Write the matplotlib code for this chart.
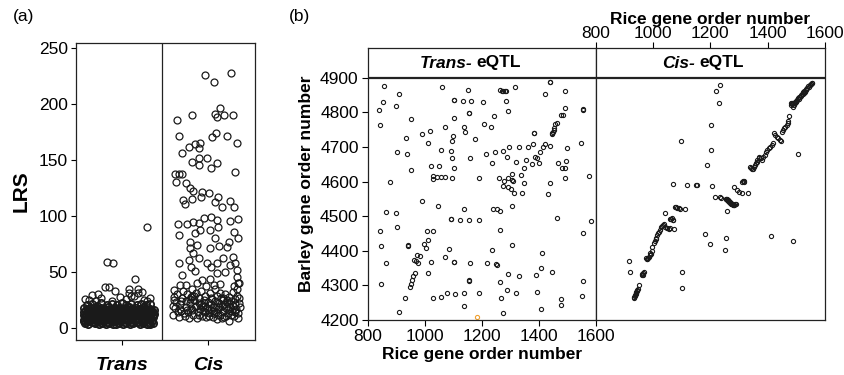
import numpy as np
import matplotlib.pyplot as plt

plt.rcParams['font.family'] = ['Liberation Sans', 'DejaVu Sans']

# ---- panel (a): LRS of trans / cis eQTL (x = category + jitter) ----
trans_blob_x = [-0.43, -0.39, -0.35, -0.31, -0.27, -0.23, -0.19, -0.15, -0.11, -0.07, -0.03, 0.01, 0.05, 0.09, 0.13, 0.17, 0.21, 0.25, 0.29, 0.33, 0.36,
                -0.41, -0.37, -0.33, -0.29, -0.25, -0.21, -0.17, -0.13, -0.09, -0.05, -0.01, 0.03, 0.07, 0.11, 0.15, 0.19, 0.23, 0.27, 0.31, 0.35, -0.44,
                -0.44, -0.41, -0.37, -0.33, -0.29, -0.25, -0.21, -0.17, -0.13, -0.09, -0.05, -0.01, 0.03, 0.07, 0.11, 0.15, 0.19, 0.23, 0.27, 0.31, 0.35,
                -0.43, -0.39, -0.35, -0.31, -0.27, -0.23, -0.19, -0.15, -0.11, -0.07, -0.03, 0.01, 0.05, 0.09, 0.13, 0.17, 0.21, 0.25, 0.29, 0.33, 0.36,
                -0.44, -0.40, -0.36, -0.32, -0.28, -0.24, -0.20, -0.16, -0.12, -0.08, -0.04, 0.00, 0.04, 0.08, 0.12, 0.16, 0.20, 0.24, 0.28, 0.32, 0.36,
                -0.42, -0.38, -0.34, -0.30, -0.26, -0.22, -0.18, -0.14, -0.10, -0.06, -0.02, 0.02, 0.06, 0.10, 0.14, 0.18, 0.22, 0.26, 0.30, 0.34, 0.37,
                -0.44, -0.40, -0.36, -0.32, -0.28, -0.24, -0.20, -0.16, -0.12, -0.08, -0.04, 0.00, 0.04, 0.08, 0.12, 0.16, 0.20, 0.24, 0.28, 0.32, 0.36,
                -0.42, -0.38, -0.34, -0.30, -0.26, -0.22, -0.18, -0.14, -0.10, -0.06, -0.02, 0.02, 0.06, 0.10, 0.14, 0.18, 0.22, 0.26, 0.30, 0.34, 0.37,
                -0.44, -0.40, -0.36, -0.32, -0.28, -0.24, -0.20, -0.16, -0.12, -0.08, -0.04, 0.00, 0.04, 0.08, 0.12, 0.16, 0.20, 0.24, 0.28, 0.32,
                -0.41, -0.35, -0.29, -0.24, -0.18, -0.12, -0.06, 0.00, 0.05, 0.11, 0.17, 0.22, 0.28, 0.33]
trans_blob_y = [4.2, 3.6, 5.0, 4.1, 3.8, 4.6, 3.5, 4.9, 4.0, 3.7, 4.4, 3.9, 4.8, 3.6, 4.3, 5.1, 3.8, 4.5, 4.0, 3.7, 4.6,
                5.9, 6.3, 5.5, 6.1, 5.7, 6.4, 5.6, 6.0, 6.2, 5.4, 6.5, 5.8, 6.1, 5.6, 6.3, 5.7, 6.0, 6.4, 5.5, 6.2, 5.9,
                7.6, 8.1, 7.2, 7.9, 8.4, 7.0, 7.7, 8.3, 7.4, 8.0, 7.1, 7.8, 8.5, 7.3, 7.9, 7.5, 8.2, 7.0, 7.7, 8.4, 7.6,
                9.5, 9.1, 9.8, 9.3, 9.6, 9.0, 9.9, 9.4, 9.2, 9.7, 9.3, 9.6, 9.0, 9.8, 9.4, 9.1, 9.7, 9.3, 9.9, 9.2, 9.5,
                11.2, 10.6, 11.8, 10.9, 11.5, 10.4, 11.9, 11.0, 10.7, 11.6, 11.1, 10.5, 11.4, 12.0, 10.8, 11.3, 10.6, 11.7, 11.0, 10.9, 11.5,
                12.9, 12.5, 13.2, 12.7, 13.0, 12.4, 12.8, 13.3, 12.6, 12.9, 13.1, 12.5, 12.8, 13.2, 12.7, 12.4, 13.0, 12.6, 13.3, 12.8, 12.7,
                14.3, 15.0, 14.1, 14.8, 13.9, 15.2, 14.5, 14.0, 15.1, 14.4, 13.8, 14.9, 14.2, 15.3, 14.6, 13.9, 14.7, 15.0, 14.1, 14.8, 14.3,
                16.0, 16.4, 15.8, 16.3, 16.1, 15.7, 16.5, 16.0, 15.9, 16.2, 16.6, 15.8, 16.1, 16.4, 15.9, 16.3, 16.0, 15.7, 16.2, 16.5, 16.0,
                17.8, 17.1, 18.3, 17.5, 16.9, 18.0, 17.3, 18.6, 17.0, 17.7, 18.2, 16.8, 17.6, 18.4, 17.2, 17.9, 16.9, 18.1, 17.4, 17.0,
                20.6, 21.4, 20.1, 22.0, 20.8, 21.5, 20.3, 22.3, 20.9, 21.2, 20.4, 21.8, 20.7, 21.0]
trans_high_x = [-0.43, -0.35, -0.30, -0.20, -0.15, -0.08, 0.085, 0.19, 0.19, 0.085, 0.23, 0.29, -0.38, -0.25, -0.12,
                -0.02, 0.05, 0.14, 0.26, 0.33, -0.28, 0.10, -0.17, -0.10, 0.155, 0.29]
trans_high_y = [26.1, 29.7, 24.5, 36.5, 36.5, 32.7, 34.7, 34.7, 31.2, 31.2, 31.8, 23.8, 25.0, 26.8, 24.2,
                27.5, 25.6, 28.3, 24.9, 26.4, 30.5, 29.0, 58.8, 57.9, 43.9, 90.6]

cis_x = [-0.03, 0.066, 0.27, 0.14, 0.085, 0.11, 0.19, 0.29, -0.36, -0.19,
         -0.34, 0.047, 0.097, 0.22, 0.34, -0.15, -0.09, -0.22, -0.11, -0.30, -0.19, -0.10, -0.11, -0.01, 0.10, 0.035, 0.32,
         -0.38, -0.34, -0.30, -0.37, -0.26, -0.21, -0.17, -0.07, 0.016, 0.12, -0.29, -0.27, -0.19, -0.08, 0.085, 0.16, 0.26, 0.30,
         -0.35, -0.34, -0.24, -0.17, -0.10, -0.05, 0.035, 0.10, 0.12, 0.02, -0.09, -0.15, -0.21, -0.13, -0.21, 0.027, 0.085, 0.13,
         0.22, 0.25, 0.35, 0.35, 0.26, 0.30,
         -0.34, -0.22, -0.20, -0.17, -0.10, -0.01, 0.035, 0.11, 0.17, 0.26, 0.32, 0.34, 0.29, -0.30, -0.15, -0.07, 0.02, 0.10,
         0.20, 0.34, 0.14, 0.066, -0.02, -0.13, -0.26, -0.33, 0.30, 0.35,
         -0.41, -0.38, -0.40, -0.36, -0.39, -0.34, -0.33, -0.31, -0.30, -0.29, -0.27, -0.26, -0.25, -0.24, -0.23, -0.22, -0.21,
         -0.20, -0.19, -0.18, -0.17, -0.16, -0.15, -0.14, -0.13, -0.12, -0.11, -0.10, -0.09, -0.08, -0.07, -0.06, -0.05, -0.04,
         -0.03, -0.02, -0.01, 0.00, 0.01, 0.02, 0.03, 0.04, 0.05, 0.06, 0.07, 0.08, 0.09, 0.10, 0.11, 0.12, 0.13, 0.14, 0.15,
         0.16, 0.17, 0.18, 0.19, 0.20, 0.21, 0.22, 0.23, 0.24, 0.25, 0.26, 0.27, 0.28, 0.29, 0.30, 0.31, 0.32, 0.33, 0.34, 0.35,
         0.36, 0.35, 0.37, 0.34, 0.36,
         -0.37, -0.32, -0.28, -0.21, -0.14, -0.06, 0.03, 0.09, 0.14, 0.19, 0.23, 0.29, 0.32, -0.18, -0.08, 0.06, 0.12, 0.21,
         0.27, -0.03, 0.00, 0.16, -0.11, -0.24, 0.08, -0.35, -0.41, -0.39,
         -0.20, -0.05, 0.07, 0.18, 0.25, 0.31, -0.31, -0.16, 0.01, 0.13, 0.22, 0.36]
cis_y = [225.6, 219.7, 227.7, 196.6, 190.9, 188, 190, 190, 185.6, 190,
         171.3, 170.7, 173.7, 171.3, 164.8, 164.2, 164.8, 161.8, 160.3, 156.5, 148.5, 151.4, 146, 151.4, 147, 142.5, 139.5,
         137.5, 137.5, 137.5, 130.6, 129.7, 125.3, 122.3, 121.1, 120.8, 116.7, 114.3, 110.5, 114.9, 117.3, 112.8, 107.8, 113.7, 108.4,
         92.9, 83.1, 92.9, 95, 93.5, 98, 99.5, 96.5, 90.6, 87.6, 87.6, 84.6, 77.2, 74.2, 71.3, 71.3, 80.2, 73.3,
         72.6, 77.2, 80.2, 97.1, 95.9, 85.5,
         57.9, 60.9, 54.9, 66.8, 62.4, 57.9, 54.9, 57.9, 62.4, 56.4, 57.9, 52, 63.8, 47.5, 50.5, 43, 43.6, 49,
         49.6, 46, 39.5, 38.6, 37.7, 40, 38.6, 38.6, 37.7, 40,
         12, 18, 25, 30, 34, 10, 21, 15, 27, 33, 11, 19, 24, 30, 14, 8.5, 22,
         28, 35, 16, 12, 25, 19, 31, 9, 14, 22, 27, 17, 33, 11, 20, 25, 14,
         29, 9.5, 18, 23, 13, 31, 16, 21, 26, 10, 19, 24, 14, 29, 8, 17, 22, 12, 27,
         20, 15, 25, 10, 30, 18, 23, 13, 28, 6.5, 19, 24, 15, 32, 11, 21, 26, 17, 29, 13,
         22, 9, 19, 35, 40,
         23, 17, 13, 26, 20, 15, 27, 20, 31, 21, 17, 20, 14, 29, 21, 15, 12, 11,
         12, 20, 16, 9, 12, 16, 35, 14, 20, 28,
         18, 22, 13, 27, 21, 16, 24, 29, 11, 19, 25, 27]

# ---- panel (b): rice vs barley gene order ----
trans_rice = [858, 911, 1060, 1153, 1263, 1272, 1281, 1286, 1317, 1440, 1422, 1492,
              840, 855, 898, 1104, 1136, 1163, 1203, 1156, 1284, 1292, 1554, 1494, 843, 952, 1104, 1072, 1139,
              1208, 1243, 1232, 1143, 1178, 1020, 991, 933, 1101, 1097, 1013, 904, 937, 1057, 1091, 1095,
              1022, 1051, 1103, 952, 878, 1030, 1042, 1057, 1071, 1028, 1095, 1192, 1159, 1215, 1237, 1247,
              1274, 1288, 1297, 1331, 1363, 1305, 1322, 1339, 1349, 1355, 1381, 1383, 1378, 1388, 1393, 1405,
              1414, 1422, 1402, 1441, 1446, 1450, 1453, 1458, 1465, 1477, 1485, 1498, 1494, 1496, 1492, 1482,
              1467, 1440, 1432, 1349, 1342, 1260, 1277, 1294, 1311, 1274, 1294, 1302, 1315, 1308, 1308, 1255,
              1239, 1265, 1235, 1252, 1265, 1308, 1292, 1265, 1288, 1268, 1274, 1322, 1331, 1390, 1408, 1411,
              1448, 1393, 1408, 1478, 1478, 1557, 1553, 1557, 1583, 1578, 1549, 1465, 1189, 1139, 1154, 1123,
              1093, 1046, 991, 900, 864, 902, 843, 848, 864, 847, 931, 911, 1007, 1028, 1011, 999, 1005, 943,
              972, 984, 970, 975, 964, 966, 960, 955, 951, 947, 1013, 1022, 1028, 1056, 1079, 1087, 1070, 1104,
              1105, 1138, 1155, 1158, 1139, 1192, 1220, 1250,
              1440, 1104, 1156, 1554, 1383, 1093, 943, 1104, 1155, 1273, 1448, 1452]
trans_barley = [4876, 4853, 4872, 4864, 4864, 4863, 4862, 4861, 4873, 4887, 4852, 4862,
                4807, 4831, 4818, 4835, 4834, 4834, 4831, 4797, 4834, 4803, 4809, 4813, 4762, 4781, 4785, 4758, 4758,
                4767, 4789, 4757, 4744, 4722, 4745, 4736, 4727, 4732, 4716, 4711, 4684, 4681, 4691, 4688, 4669,
                4645, 4645, 4639, 4632, 4600, 4617, 4614, 4614, 4612, 4607, 4609, 4609, 4668, 4679, 4654, 4686,
                4688, 4670, 4701, 4699, 4701, 4623, 4657, 4619, 4638, 4662, 4708, 4739, 4650, 4670, 4668, 4686,
                4701, 4708, 4655, 4702, 4738, 4742, 4754, 4766, 4769, 4792, 4792, 4697, 4638, 4660, 4609, 4638,
                4655, 4597, 4563, 4597, 4566, 4609, 4603, 4609, 4603, 4588, 4585, 4579, 4568, 4604, 4530, 4521,
                4521, 4516, 4402, 4359, 4461, 4417, 4333, 4311, 4287, 4264, 4219, 4279, 4326, 4329, 4351, 4393,
                4339, 4280, 4232, 4261, 4243, 4313, 4269, 4452, 4487, 4616, 4710, 4494, 4489, 4520, 4489, 4489,
                4491, 4529, 4544, 4508, 4512, 4470, 4458, 4414, 4364, 4304, 4264, 4222, 4458, 4456, 4431, 4419, 4407, 4415,
                4388, 4385, 4371, 4366, 4373, 4335, 4327, 4315, 4304, 4296, 4335, 4367, 4264, 4267, 4277, 4404, 4381, 4367,
                4275, 4277, 4314, 4364, 4240, 4279, 4364, 4361,
                4889, 4837, 4799, 4807, 4741, 4493, 4417, 4369, 4316, 4862, 4740, 4748]
orange_rice = [1185]
orange_barley = [4208]

cis_rice = [934, 937, 940, 944, 947, 952, 960, 966, 965, 976, 980, 985, 990, 992, 997, 1003, 1010, 1015, 1020,
            1027, 1034, 1041, 1048, 1055, 1059, 1065, 1071, 1042, 1077, 1085, 1094, 1112, 1074, 1050, 1060,
            1216, 1234, 1238, 1253, 1257, 1260, 1263, 1266, 1269, 1273, 1277, 1281, 1286, 1257,
            1283, 1292, 1301, 1309, 1312, 1319, 1330,
            1338, 1347, 1353, 1359, 1364, 1371, 1379, 1391, 1399, 1409, 1420, 1423, 1431, 1442, 1449, 1457,
            1466, 1472, 1476, 1480, 1484, 1487, 1491, 1495, 1499, 1503, 1508, 1513, 1518, 1522, 1526, 1530,
            1534, 1538, 1543, 1548, 1552, 1556,
            1506, 1489, 1412, 917, 920, 1101, 1101, 1181, 1199, 1255, 1252, 1230, 1235, 1221,
            1207, 1188, 1203, 1203, 1096, 1071, 1119, 1149, 1153,
            932, 936, 939, 942, 945, 962, 968, 978, 983, 988, 995, 1006, 1012, 1018, 1024, 1030, 1037,
            1062, 1068, 1080, 1089,
            1255, 1259, 1262, 1265, 1268, 1271, 1275, 1279, 1284, 1288, 1315, 1317,
            1342, 1350, 1356, 1362, 1368, 1375, 1385, 1395, 1404, 1414, 1425, 1436, 1445, 1453, 1462, 1470,
            1482, 1486, 1490, 1494, 1498, 1502, 1506, 1511, 1516, 1520, 1524, 1528, 1532, 1536, 1541, 1546, 1550, 1554]
cis_barley = [4267, 4272, 4278, 4283, 4289, 4301, 4330, 4335, 4329, 4378, 4375, 4383, 4393, 4391, 4412, 4423, 4433, 4445, 4455,
              4470, 4474, 4470, 4466, 4463, 4491, 4494, 4489, 4508, 4527, 4525, 4522, 4522, 4464, 4467, 4465,
              4554, 4554, 4552, 4551, 4549, 4547, 4544, 4541, 4537, 4535, 4534, 4532, 4535, 4515,
              4585, 4577, 4570, 4568, 4600, 4602, 4566,
              4643, 4635, 4643, 4653, 4662, 4672, 4662, 4677, 4691, 4701, 4710, 4741, 4730, 4720, 4744, 4754,
              4763, 4775, 4789, 4826, 4828, 4816, 4822, 4826, 4830, 4835, 4839, 4843, 4848, 4852, 4856, 4860,
              4864, 4869, 4874, 4879, 4882, 4884,
              4679, 4428, 4443, 4370, 4338, 4338, 4292, 4448, 4419, 4437, 4402, 4828, 4879, 4861,
              4587, 4648, 4691, 4763, 4717, 4593, 4590, 4590, 4590,
              4263, 4269, 4275, 4280, 4286, 4332, 4338, 4377, 4380, 4388, 4400, 4428, 4438, 4450, 4460, 4472, 4476,
              4492, 4490, 4526, 4524,
              4550, 4548, 4546, 4543, 4540, 4537, 4535, 4533, 4533, 4534, 4601, 4598,
              4640, 4637, 4648, 4657, 4668, 4667, 4670, 4684, 4696, 4705, 4735, 4725, 4718, 4750, 4758, 4770,
              4820, 4824, 4828, 4831, 4834, 4837, 4840, 4845, 4849, 4853, 4858, 4862, 4866, 4871, 4875, 4878, 4881, 4886]

W, H = 844, 375
fig = plt.figure(figsize=(W / 100, H / 100), dpi=100)


def box(l, t, r, b):
    return [l / W, 1 - b / H, (r - l) / W, (b - t) / H]


spine_col = '#222222'

# panel (a)
ax = fig.add_axes(box(76, 43, 255, 340))
mk = dict(ls='none', marker='o', mfc='none', mec='#1a1a1a', ms=5.0, mew=0.9)
ax.plot(1 + np.array(trans_blob_x), trans_blob_y, ls='none', marker='o', mfc='none', mec='#1a1a1a', ms=5.2, mew=1.3)
ax.plot(1 + np.array(trans_high_x), trans_high_y, **mk)
ax.plot(2 + np.array(cis_x), cis_y, **mk)
ax.axvline(1.465, color=spine_col, lw=0.9)
ax.set_xlim(0.465, 2.547)
ax.set_ylim(-10.7, 254.5)
ax.set_yticks([0, 50, 100, 150, 200, 250])
ax.set_xticks([1, 2])
ax.set_xticklabels(['Trans', 'Cis'], fontsize=14, fontweight='bold', style='italic')
ax.tick_params(axis='y', labelsize=12.5, length=3.5, width=0.8, pad=2.5)
ax.tick_params(axis='x', length=3.5, width=0.8, pad=9)
for s in ax.spines.values():
    s.set_linewidth(0.9)
    s.set_color(spine_col)
ax.set_ylabel('LRS', fontsize=15, fontweight='bold', labelpad=6)
fig.text(13 / W, 1 - 17 / H, '(a)', fontsize=12.5, va='center', ha='left')
fig.text(289 / W, 1 - 17 / H, '(b)', fontsize=12.5, va='center', ha='left')

# panel (b)
ytop = 4900 + (77.7 - 48.3) / (242.3 / 700)
mk2 = dict(ls='none', marker='o', mfc='none', mec='#1a1a1a', ms=3.0, mew=0.8)

axt = fig.add_axes(box(367.7, 48.3, 595.7, 320))
axt.plot(trans_rice, trans_barley, **mk2)
axt.plot(orange_rice, orange_barley, ls='none', marker='o', mfc='none', mec='#f0a030', ms=3.0, mew=0.8)
axt.set_xlim(800, 1600)
axt.set_ylim(4200, ytop)
axt.set_xticks([800, 1000, 1200, 1400, 1600])
axt.set_yticks([4200, 4300, 4400, 4500, 4600, 4700, 4800, 4900])
axt.tick_params(labelsize=12.5, length=4, width=0.8, pad=2.5)
axt.set_xlabel('Rice gene order number', fontsize=12.5, fontweight='bold', labelpad=2)
axt.set_ylabel('Barley gene order number', fontsize=12.5, fontweight='bold', labelpad=4)

axc = fig.add_axes(box(595.7, 48.3, 825, 320))
axc.plot(cis_rice, cis_barley, **mk2)
axc.set_xlim(800, 1600)
axc.set_ylim(4200, ytop)
axc.xaxis.tick_top()
axc.xaxis.set_label_position('top')
axc.set_xticks([800, 1000, 1200, 1400, 1600])
axc.set_yticks([])
axc.tick_params(labelsize=12.5, length=4, width=0.8, pad=1.5)
axc.set_xlabel('Rice gene order number', fontsize=12.5, fontweight='bold', labelpad=1)

for a in (axt, axc):
    a.axhline(4900, color=spine_col, lw=1.6)
    for s in a.spines.values():
        s.set_linewidth(0.9)
        s.set_color(spine_col)

ys = 1 - 63 / H
fig.text(472 / W, ys, 'Trans-', fontsize=12.5, fontweight='bold', style='italic', ha='right', va='center')
fig.text(476 / W, ys, 'eQTL', fontsize=12.5, fontweight='bold', ha='left', va='center')
fig.text(695 / W, ys, 'Cis-', fontsize=12.5, fontweight='bold', style='italic', ha='right', va='center')
fig.text(699 / W, ys, 'eQTL', fontsize=12.5, fontweight='bold', ha='left', va='center')

fig.savefig('out.png', dpi=100)
